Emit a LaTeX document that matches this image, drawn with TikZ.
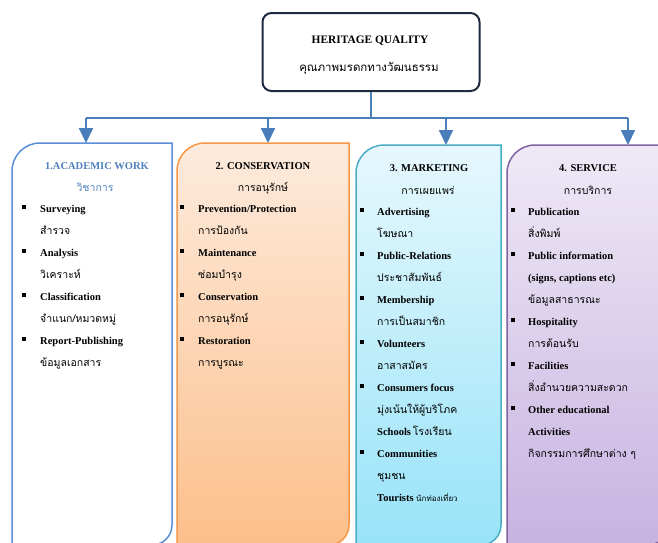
\documentclass[tikz,border=0pt]{standalone}
\usepackage{fontspec}
\setmainfont{Liberation Serif}
\newfontfamily\thfont[Script=Thai]{Loma}
\usetikzlibrary{arrows.meta}
\definecolor{connc}{HTML}{4A7EBB}
\definecolor{topc}{HTML}{1C2B40}
\definecolor{bluec}{HTML}{5B8ED6}
\definecolor{headblue}{HTML}{4F81BD}
\definecolor{orc}{HTML}{F79646}
\definecolor{ortop}{HTML}{FDEBDD}
\definecolor{orbot}{HTML}{FCBF8B}
\definecolor{cyc}{HTML}{4BACC6}
\definecolor{cytop}{HTML}{E6F8FD}
\definecolor{cybot}{HTML}{98E3F8}
\definecolor{puc}{HTML}{8064A2}
\definecolor{putop}{HTML}{EFE9F6}
\definecolor{pubot}{HTML}{C7B3E1}
\tikzset{
  conn/.style={draw=connc, line width=2pt},
  arr/.style={conn, -{Triangle[width=14pt,length=15pt]}},
  en/.style={anchor=base west, inner sep=0pt, font=\fontsize{10.5}{12}\selectfont\bfseries},
  th/.style={anchor=base west, inner sep=0pt, font=\fontsize{10.5}{12}\selectfont\thfont},
  hd/.style={anchor=base, inner sep=0pt, font=\fontsize{10.5}{12}\selectfont\bfseries},
  thc/.style={anchor=base, inner sep=0pt, font=\fontsize{10.5}{12}\selectfont\thfont},
  bul/.style={fill=black, minimum size=4.5pt, inner sep=0pt, draw=none},
  boxline/.style={line width=1.5pt}
}
\newcommand\diagbox[3]{%
  \path[#3] (#1 |- #2) [rounded corners=28pt] -- (#1) [sharp corners] -- (#2 |- #1) [rounded corners=20pt] -- (#2) [sharp corners] -- cycle;}
\begin{document}
\begin{tikzpicture}[x=1pt,y=-1pt]
\useasboundingbox (0,0) rectangle (658,542);
\fill[white] (0,0) rectangle (658,542);

% box corners
\coordinate (b1nw) at (12,143); \coordinate (b1se) at (172,545);
\coordinate (b2nw) at (177,143); \coordinate (b2se) at (349,545);
\coordinate (b3nw) at (356,145); \coordinate (b3se) at (501,545);
\coordinate (b4nw) at (507,145); \coordinate (b4se) at (668,545);

\diagbox{b1nw}{b1se}{draw=bluec, boxline, fill=white}
\diagbox{b2nw}{b2se}{draw=orc, boxline, top color=ortop, bottom color=orbot}
\diagbox{b3nw}{b3se}{draw=cyc, boxline, top color=cytop, bottom color=cybot}
\diagbox{b4nw}{b4se}{draw=puc, boxline, top color=putop, bottom color=pubot}

% top box
\node[draw=topc, line width=2pt, rounded corners=9pt, minimum width=217pt, minimum height=78pt, inner sep=0pt] (hq) at (371,52) {};
\node[anchor=base, inner sep=0pt, font=\fontsize{11.4}{13}\selectfont\bfseries] (hq1) at (370,43) {HERITAGE QUALITY};
\node[anchor=base, inner sep=0pt, font=\fontsize{11.5}{13}\selectfont\thfont] (hq2) at (369,71) {คุณภาพมรดกทางวัฒนธรรม};

% connectors
\coordinate (j) at (hq.south |- 0,118);
\coordinate (h1) at (86,118); \coordinate (h4) at (628,118);
\coordinate (h2) at (268,118); \coordinate (h3) at (446,118);
\coordinate (a1) at (86,143); \coordinate (a2) at (268,143);
\coordinate (a3) at (446,145); \coordinate (a4) at (628,145);
\draw[conn] (hq.south) -- (j);
\draw[conn] (h1) -- (h4);
\draw[arr] (h1) -- (a1);
\draw[arr] (h2) -- (a2);
\draw[arr] (h3) -- (a3);
\draw[arr] (h4) -- (a4);

% box 1
\node[hd, text=headblue] (t1) at (97,169) {1.ACADEMIC WORK};
\node[thc, text=headblue] (t1t) at (95,191) {วิชาการ};
\node[bul] (u11) at (24,207) {}; \node[en] (e11) at (40,212) {Surveying};
\node[th] (s11) at (40,234) {สำรวจ};
\node[bul] (u12) at (24,251) {}; \node[en] (e12) at (40,256) {Analysis};
\node[th] (s12) at (40,278) {วิเคราะห์};
\node[bul] (u13) at (24,295) {}; \node[en] (e13) at (40,300) {Classification};
\node[th] (s13) at (40,322) {จำแนก/หมวดหมู่};
\node[bul] (u14) at (24,339) {}; \node[en] (e14) at (40,344) {Report-Publishing};
\node[th] (s14) at (40,366) {ข้อมูลเอกสาร};

% box 2
\node[hd] (t2) at (263,169) {2. CONSERVATION};
\node[thc] (t2t) at (263,191) {การอนุรักษ์};
\node[bul] (u21) at (182,207) {}; \node[en] (e21) at (198,212) {Prevention/Protection};
\node[th] (s21) at (198,234) {การป้องกัน};
\node[bul] (u22) at (182,251) {}; \node[en] (e22) at (198,256) {Maintenance};
\node[th] (s22) at (198,278) {ซ่อมบำรุง};
\node[bul] (u23) at (182,295) {}; \node[en] (e23) at (198,300) {Conservation};
\node[th] (s23) at (198,322) {การอนุรักษ์};
\node[bul] (u24) at (182,339) {}; \node[en] (e24) at (198,344) {Restoration};
\node[th] (s24) at (198,366) {การบูรณะ};

% box 3
\node[hd] (t3) at (429,171) {3. MARKETING};
\node[thc] (t3t) at (428,194) {การเผยแพร่};
\node[bul] (u31) at (362,210) {}; \node[en] (e31) at (377,215) {Advertising};
\node[th] (s31) at (377,237) {โฆษณา};
\node[bul] (u32) at (362,254) {}; \node[en] (e32) at (377,259) {Public-Relations};
\node[th] (s32) at (377,281) {ประชาสัมพันธ์};
\node[bul] (u33) at (362,298) {}; \node[en] (e33) at (377,303) {Membership};
\node[th] (s33) at (377,325) {การเป็นสมาชิก};
\node[bul] (u34) at (362,342) {}; \node[en] (e34) at (377,347) {Volunteers};
\node[th] (s34) at (377,369) {อาสาสมัคร};
\node[bul] (u35) at (362,386) {}; \node[en] (e35) at (377,391) {Consumers focus};
\node[th] (s35) at (377,413) {มุ่งเน้นให้ผู้บริโภค};
\node[en] (e36) at (377,435) {Schools\,{\mdseries\thfont โรงเรียน}};
\node[bul] (u37) at (362,452) {}; \node[en] (e37) at (377,457) {Communities};
\node[th] (s37) at (377,479) {ชุมชน};
\node[en] (e38) at (377,501) {Tourists {\mdseries\thfont\fontsize{8}{10}\selectfont นักท่องเที่ยว}};

% box 4
\node[hd] (t4) at (588,171) {4. SERVICE};
\node[thc] (t4t) at (588,194) {การบริการ};
\node[bul] (u41) at (513,210) {}; \node[en] (e41) at (528,215) {Publication};
\node[th] (s41) at (528,237) {สิ่งพิมพ์};
\node[bul] (u42) at (513,254) {}; \node[en] (e42) at (528,259) {Public information};
\node[en] (e42b) at (528,281) {(signs, captions etc)};
\node[th] (s42) at (528,303) {ข้อมูลสาธารณะ};
\node[bul] (u43) at (513,320) {}; \node[en] (e43) at (528,325) {Hospitality};
\node[th] (s43) at (528,347) {การต้อนรับ};
\node[bul] (u44) at (513,364) {}; \node[en] (e44) at (528,369) {Facilities};
\node[th] (s44) at (528,391) {สิ่งอำนวยความสะดวก};
\node[bul] (u45) at (513,408) {}; \node[en] (e45) at (528,413) {Other educational};
\node[en] (e45b) at (528,435) {Activities};
\node[th] (s45) at (528,457) {กิจกรรมการศึกษาต่าง ๆ};
\end{tikzpicture}
\end{document}
